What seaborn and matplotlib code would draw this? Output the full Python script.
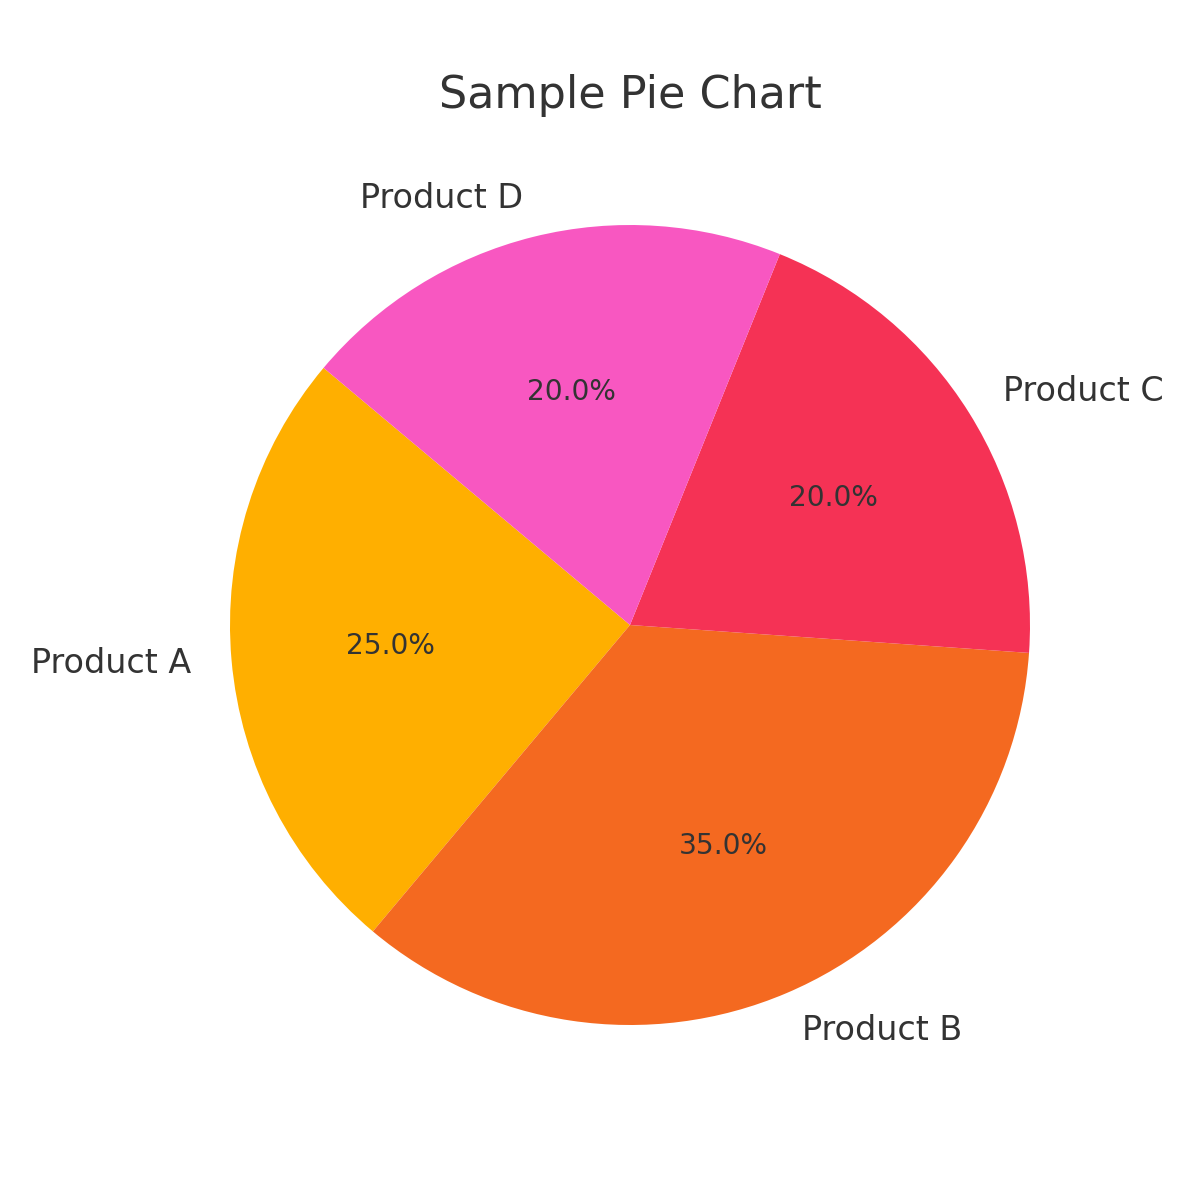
import matplotlib
matplotlib.use("Agg")
import matplotlib.pyplot as plt
import seaborn as sns

# Daten
produkte = ['Product A', 'Product B', 'Product C', 'Product D']
anteile = [25, 35, 20, 20]
farben = ['#FFAF00', '#F46920', '#F53255', '#F857C1']

sns.set_theme(style="white")
plt.rcParams['font.family'] = ['DejaVu Sans']
textfarbe = '#333333'

fig = plt.figure(figsize=(6, 6), dpi=200)
ax = fig.add_axes([0.10833, 0.0625, 0.83333, 0.83333])

wedges, texts, autotexts = ax.pie(
    anteile, labels=produkte, colors=farben, autopct='%1.1f%%',
    startangle=140, textprops={'color': textfarbe},
    wedgeprops={'linewidth': 0, 'edgecolor': 'none'}
)
for t in texts:
    t.set_fontsize(12)
for t in autotexts:
    t.set_fontsize(10.1)

ax.set_title('Sample Pie Chart', fontsize=16, color=textfarbe)
ax.set_aspect('equal')

fig.savefig('out.png', dpi=200)
